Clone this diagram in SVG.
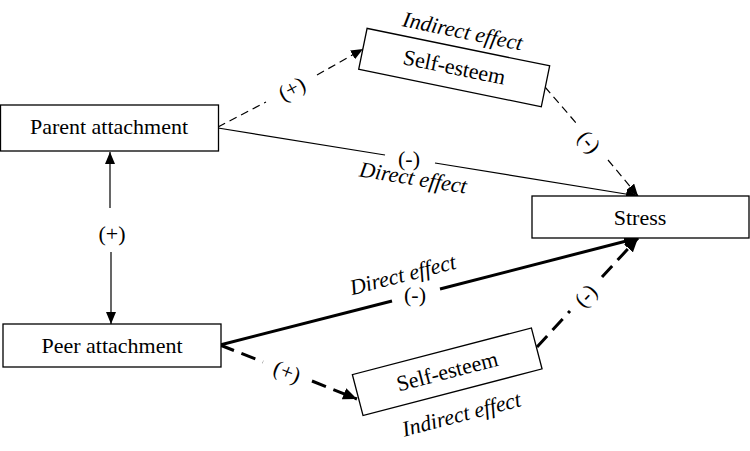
<svg xmlns="http://www.w3.org/2000/svg" width="750" height="451" viewBox="0 0 750 451">
<defs>
<style>
.box{fill:#fff;stroke:#000;stroke-width:1.3}
.t{font-family:'Liberation Serif',serif;font-size:22px;fill:#000;text-anchor:middle}
.i{font-style:italic}
.thin{stroke:#000;stroke-width:1.2;fill:none}
.thick{stroke:#000;stroke-width:3;fill:none}
.d1{stroke-dasharray:8 5}
.d2{stroke-dasharray:15 8}
</style>
<marker id="a" viewBox="0 0 12 10" refX="12" refY="5" markerWidth="12" markerHeight="10" markerUnits="userSpaceOnUse" orient="auto-start-reverse">
<path d="M0,0 L12,5 L0,10 Z" fill="#000"/>
</marker>
<marker id="b" viewBox="0 0 14 12" refX="14" refY="6" markerWidth="14" markerHeight="12" markerUnits="userSpaceOnUse" orient="auto">
<path d="M0,0 L14,6 L0,12 Z" fill="#000"/>
</marker>
</defs>
<rect width="750" height="451" fill="#fff"/>

<g id="connectors" font-family="Liberation Serif, serif">
<line class="thin" x1="110" y1="208" x2="110" y2="152" marker-end="url(#a)"/>
<line class="thin" x1="111" y1="252" x2="111" y2="324" marker-end="url(#a)"/>
<text class="t" x="112" y="241">(+)</text>

<line class="thin d1" x1="218" y1="127" x2="266" y2="102"/>
<line class="thin d1" x1="317" y1="75" x2="363" y2="49" marker-end="url(#a)"/>
<text class="t" transform="translate(292,89) rotate(-28)" y="7">(+)</text>

<line class="thin" x1="218" y1="128" x2="385" y2="155"/>
<line class="thin" x1="435" y1="163" x2="638" y2="196" marker-end="url(#a)"/>
<text class="t" x="409" y="166">(-)</text>
<text class="t i" transform="translate(413,179) rotate(9.2)" y="6">Direct effect</text>

<line class="thin d1" x1="545" y1="87" x2="577" y2="124"/>
<line class="thin d1" x1="608" y1="160" x2="638" y2="196" marker-end="url(#a)"/>
<text class="t" transform="translate(589,142) rotate(49.5)" y="7">(-)</text>

<line class="thick" x1="220" y1="345" x2="392" y2="301"/>
<line class="thick" x1="440" y1="289" x2="638" y2="238" marker-end="url(#b)"/>
<text class="t" x="415" y="302">(-)</text>
<text class="t i" transform="translate(403,276) rotate(-14.3)" y="6">Direct effect</text>

<line class="thick d2" x1="220" y1="345" x2="263" y2="362"/>
<line class="thick d2" x1="312" y1="381" x2="357" y2="399" marker-end="url(#b)"/>
<text class="t" transform="translate(287,372) rotate(21.5)" y="7">(+)</text>

<line class="thick d2" x1="537" y1="347" x2="570" y2="311"/>
<line class="thick d2" x1="602" y1="277" x2="638" y2="238" marker-end="url(#b)"/>
<text class="t" transform="translate(586,296) rotate(-47)" y="7">(-)</text>
</g>

<g id="parent">
<rect class="box" x="0.5" y="105" width="218" height="46"/>
<text class="t" x="109" y="134">Parent attachment</text>
</g>

<g id="peer">
<rect class="box" x="3" y="324" width="218" height="43"/>
<text class="t" x="112" y="353">Peer attachment</text>
</g>

<g id="stress">
<rect class="box" x="532" y="196" width="217" height="42"/>
<text class="t" x="640" y="225">Stress</text>
</g>

<g id="selfesteem-top" transform="translate(454.2,67.5) rotate(11.6)">
<rect class="box" x="-93.2" y="-20.8" width="186.4" height="41.7"/>
<text class="t" x="0" y="7">Self-esteem</text>
<text class="t i" x="1" y="-30">Indirect effect</text>
</g>

<g id="selfesteem-bottom" transform="translate(447.2,371.7) rotate(-14.6)">
<rect class="box" x="-92.5" y="-21.1" width="185" height="42.3"/>
<text class="t" x="0" y="7">Self-esteem</text>
<text class="t i" x="3" y="52">Indirect effect</text>
</g>
</svg>
